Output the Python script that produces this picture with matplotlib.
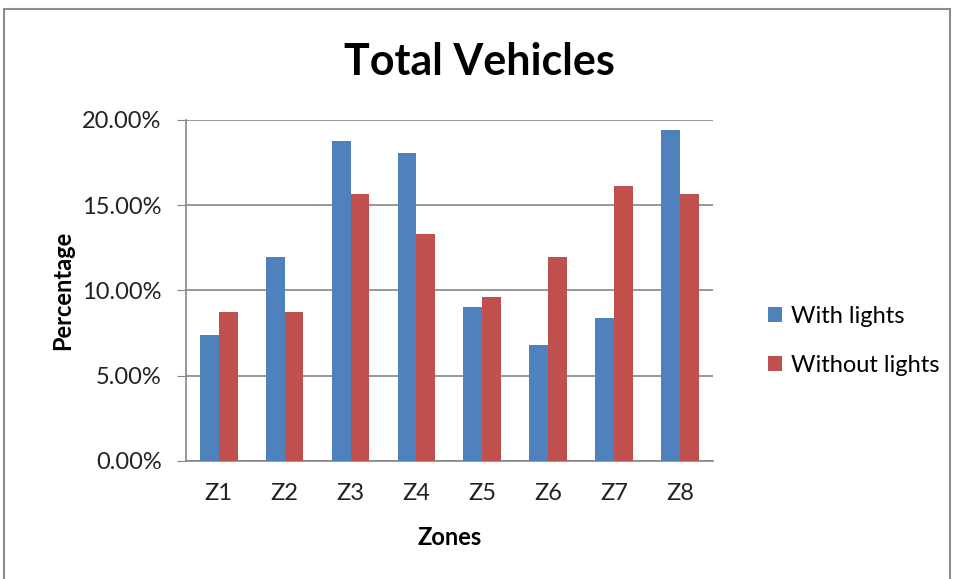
import numpy as np
from matplotlib import pyplot as plt
from matplotlib.patches import Rectangle

plt.rcParams['font.family'] = ['Lato', 'DejaVu Sans']

zones = ['Z1', 'Z2', 'Z3', 'Z4', 'Z5', 'Z6', 'Z7', 'Z8']
with_lights = [7.39, 11.96, 18.74, 18.06, 9.03, 6.78, 8.36, 19.41]
without_lights = [8.74, 8.74, 15.66, 13.31, 9.62, 11.96, 16.11, 15.66]
yticks = [0, 5, 10, 15, 20]

fig = plt.figure(figsize=(9.58, 5.79), dpi=100)
ax = fig.add_axes([0.194, 0.204, 0.55, 0.589])

# outer chart border
fig.patches.append(Rectangle((0.004, -0.01), 0.988, 0.995, transform=fig.transFigure,
                             fill=False, edgecolor='#8c8c8c', linewidth=1.5))

x = np.arange(len(zones))
w = 1 / 3.5
ax.bar(x - w / 2, with_lights, w, color='#4f81bd', label='With lights', zorder=3)
ax.bar(x + w / 2, without_lights, w, color='#c0504d', label='Without lights', zorder=3)

ax.set_xlim(-0.5, 7.5)
ax.set_ylim(0, 20)
ax.set_yticks(yticks)
ax.set_yticklabels(['%.2f%%' % v for v in yticks], fontsize=17, color='#222222')
ax.set_xticks(x)
ax.set_xticklabels(zones, fontsize=17, color='#222222')
ax.tick_params(axis='x', length=0, pad=16)
ax.tick_params(axis='y', length=6.5, color='#868686', pad=11)
ax.yaxis.grid(True, color='#868686', linewidth=1.2, zorder=0)

for s in ['top', 'right']:
    ax.spines[s].set_visible(False)
ax.spines['left'].set_color('#868686')
ax.spines['bottom'].set_color('#868686')
ax.spines['left'].set_linewidth(1.2)
ax.spines['bottom'].set_linewidth(1.2)

ax.set_xlabel('Zones', fontsize=17, fontweight='bold', labelpad=16)
ax.set_ylabel('Percentage', fontsize=17, fontweight='bold', labelpad=6)
fig.suptitle('Total Vehicles', fontsize=31, fontweight='bold', y=0.893, va='center')

ax.legend(loc='center left', bbox_to_anchor=(1.104, 0.352), frameon=False, fontsize=17,
          borderaxespad=0, borderpad=0,
          handlelength=0.6, handleheight=0.6, handletextpad=0.4, labelspacing=1.2)

plt.savefig('out.png', dpi=100)
